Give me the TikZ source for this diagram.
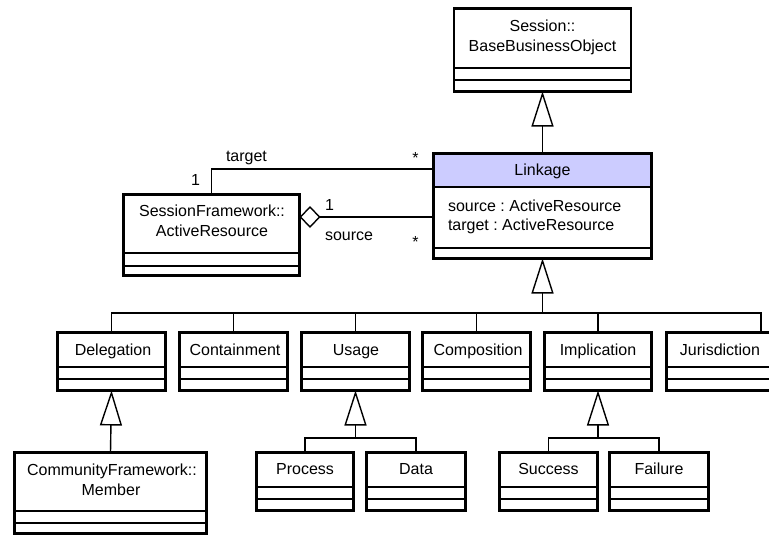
\documentclass[tikz,border=0pt]{standalone}
\usepackage{fontspec}
\setmainfont{Liberation Sans}
\usetikzlibrary{arrows.meta,calc}
\definecolor{hdrblue}{RGB}{204,204,255}
\frenchspacing

\tikzset{
  classbox/.style={draw, line width=2.8pt, inner sep=0pt, outer sep=0pt,
    anchor=north west, fill=white},
  hdr/.style={path picture={\fill[hdrblue] (path picture bounding box.north west)
    rectangle ([yshift=-33.5pt]path picture bounding box.north east);}},
  divider/.style={line width=1.5pt},
  conn/.style={line width=1.4pt},
  gen/.style={conn, -{Triangle[length=35pt,width=22pt,fill=white]}},
  agg/.style={conn, {Diamond[length=21pt,width=22pt,fill=white]}-},
  txt/.style={inner sep=0pt, outer sep=0pt, font=\fontsize{16}{19}\selectfont},
}

% class box: [extra style] name, x1, y1, x2, y2, divider y, divider y
\newcommand\classbox[8][]{%
  \node[classbox, #1, minimum width={#5pt-#3pt}, minimum height={#6pt-#4pt}]
    (#2) at (#3,#4) {};
  \draw[divider] (#2.west |- 0,#7) -- (#2.east |- 0,#7);
  \draw[divider] (#2.west |- 0,#8) -- (#2.east |- 0,#8);
}

\begin{document}
\begin{tikzpicture}[x=1pt,y=-1pt]
\useasboundingbox (0,0) rectangle (769,536);
\fill[white] (0,0) rectangle (769,536);
\clip (0,0) rectangle (769,536);

% ---- classes ----
\classbox{bbo}{454}{8.5}{631}{91.5}{68}{80}
\node[txt, anchor=base] (bbo-l1) at (542.5,31.5) {Session::};
\node[txt, anchor=base] (bbo-l2) at (542.5,51) {BaseBusinessObject};

\classbox[hdr]{link}{433.5}{153.5}{651.5}{258.5}{187}{248}
\node[txt, anchor=base] (link-name) at (542.5,175.5) {Linkage};
\node[txt, anchor=base west] (link-a1) at (448,211) {source : ActiveResource};
\node[txt, anchor=base west] (link-a2) at (448,230.5) {target : ActiveResource};

\classbox{ar}{123.5}{194.5}{299.5}{275.5}{253}{266}
\node[txt, anchor=base] (ar-l1) at (212,216.5) {SessionFramework::};
\node[txt, anchor=base] (ar-l2) at (212,236) {ActiveResource};

\classbox{deleg}{57.5}{332.5}{165.5}{390.5}{367}{379}
\node[txt, anchor=base] (deleg-name) at (113,355) {Delegation};
\classbox{cont}{179.5}{332.5}{287.5}{390.5}{367}{379}
\node[txt, anchor=base] (cont-name) at (235,355) {Containment};
\classbox{usage}{301.5}{332.5}{409.5}{390.5}{367}{379}
\node[txt, anchor=base] (usage-name) at (356,355) {Usage};
\classbox{comp}{422.5}{332.5}{530.5}{390.5}{367}{379}
\node[txt, anchor=base] (comp-name) at (478,355) {Composition};
\classbox{impl}{544.5}{332.5}{651.5}{390.5}{367}{379}
\node[txt, anchor=base] (impl-name) at (598,355) {Implication};
\classbox{jur}{666.5}{332.5}{800}{390.5}{367}{379}
\node[txt, anchor=base] (jur-name) at (720,355) {Jurisdiction};

\classbox{member}{14.5}{452.5}{206.5}{533.5}{511}{523}
\node[txt, anchor=base] (member-l1) at (112,475) {CommunityFramework::};
\node[txt, anchor=base] (member-l2) at (111,495) {Member};

\classbox{process}{256.5}{452.5}{353.5}{510.5}{487}{499}
\node[txt, anchor=base] (process-name) at (305,474) {Process};
\classbox{data}{366.5}{452.5}{465.5}{510.5}{487}{499}
\node[txt, anchor=base] (data-name) at (416,474) {Data};
\classbox{success}{499.5}{452.5}{597.5}{510.5}{487}{499}
\node[txt, anchor=base] (success-name) at (548.5,474) {Success};
\classbox{failure}{609.5}{452.5}{708.5}{510.5}{487}{499}
\node[txt, anchor=base] (failure-name) at (659,474) {Failure};

% ---- generalizations ----
\draw[gen] (link.north) -- (bbo.south);

\coordinate (topbus) at (542.5,313);
\coordinate (jurstem) at ([xshift=94.5pt]jur.north west);
\foreach \c in {deleg,cont,usage,comp,impl}
  \draw[conn] (\c.north) |- (topbus);
\draw[conn] (jurstem) |- (topbus);
\draw[gen] (topbus) -- (link.south);

\draw[gen] (member.north) -- (deleg.south);

\coordinate (usebus) at (355.5,438);
\draw[conn] (process.north) |- (usebus);
\draw[conn] (data.north) |- (usebus);
\draw[gen] (usebus) -- (usage.south);

\coordinate (implbus) at (598,438);
\draw[conn] (success.north) |- (implbus);
\draw[conn] (failure.north) |- (implbus);
\draw[gen] (implbus) -- (impl.south);

% ---- associations ----
\draw[conn] (ar.north) |- ([yshift=-15.5pt]link.north west);
\coordinate (srcend) at ([yshift=18pt]ar.east);
\draw[agg] (srcend) -- (srcend -| link.west);

\node[txt, anchor=base west] (lbl-target) at (226,161) {target};
\node[txt, anchor=base west] (m-t1) at (191,185.5) {1};
\node[txt, anchor=base] (m-tstar) at (415.5,163) {*};
\node[txt, anchor=base west] (m-s1) at (325,210) {1};
\node[txt, anchor=base west] (lbl-source) at (325,240) {source};
\node[txt, anchor=base] (m-sstar) at (415.5,247) {*};
\end{tikzpicture}
\end{document}
